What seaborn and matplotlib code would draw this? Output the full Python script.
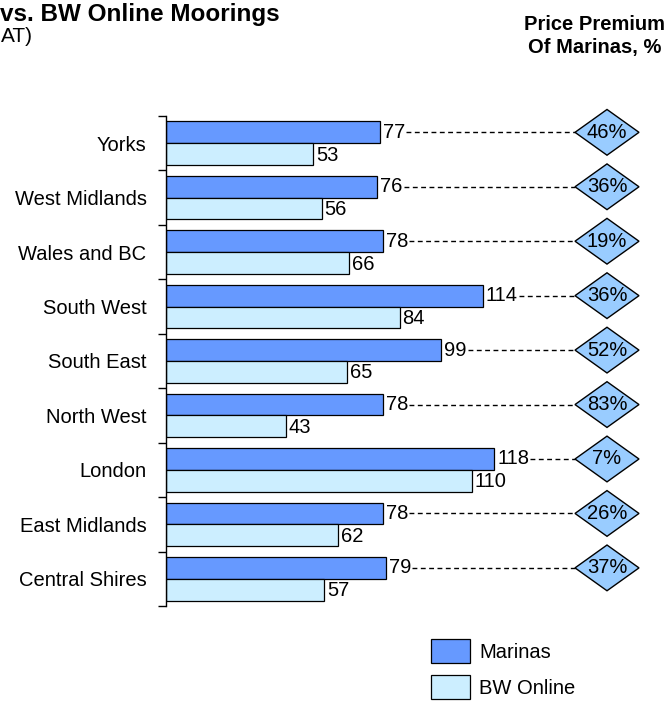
import matplotlib
matplotlib.use("Agg")
import matplotlib.pyplot as plt
import seaborn as sns
import pandas as pd
from matplotlib.patches import Polygon, Patch

regions = ["Yorks", "West Midlands", "Wales and BC", "South West", "South East",
           "North West", "London", "East Midlands", "Central Shires"]
marinas = [77, 76, 78, 114, 99, 78, 118, 78, 79]
bw_online = [53, 56, 66, 84, 65, 43, 110, 62, 57]
premium = [46, 36, 19, 36, 52, 83, 7, 26, 37]
series = ["Marinas", "BW Online"]

sns.set_theme(style="white")
plt.rcParams['font.family'] = ['Liberation Sans', 'DejaVu Sans']
plt.rcParams['text.color'] = 'black'
plt.rcParams['ytick.color'] = 'black'
plt.rcParams['ytick.labelcolor'] = 'black'

df = pd.DataFrame({
    "Region": regions * 2,
    "Price": marinas + bw_online,
    "Type": [series[0]] * len(regions) + [series[1]] * len(regions),
})

FS = 14.5
W, H = 671, 702
fig = plt.figure(figsize=(W / 100, H / 100), dpi=100)
ax_left, ax_right = 166, 671
ax_top, ax_bot = 116, 606
ax = fig.add_axes([ax_left / W, (H - ax_bot) / H, (ax_right - ax_left) / W, (ax_bot - ax_top) / H])

colors = {"Marinas": "#6699FF", "BW Online": "#CCEEFF"}
sns.barplot(data=df, y="Region", x="Price", hue="Type", order=regions, hue_order=series,
            palette=colors, saturation=1, orient="h", width=0.8, edgecolor="black",
            linewidth=0.9, ax=ax, legend=False)

px_per_unit = 2.78
xmax = (ax_right - ax_left) / px_per_unit
ax.set_xlim(0, xmax)
ax.set_ylim(len(regions) - 0.5, -0.5)

for s in ["top", "right", "bottom"]:
    ax.spines[s].set_visible(False)
ax.spines["left"].set_color("black")
ax.spines["left"].set_linewidth(1)
ax.set_xticks([])
ax.set_xlabel("")
ax.set_ylabel("")
ax.set_yticks(range(len(regions)))
ax.set_yticklabels(regions, fontsize=FS, color="black")
ax.tick_params(axis="y", which="major", length=0, pad=14)
ax.set_yticks([i - 0.5 for i in range(len(regions) + 1)], minor=True)
ax.tick_params(axis="y", which="minor", left=True, length=6, width=1, color="black",
               direction="out")

fig.canvas.draw()
renderer = fig.canvas.get_renderer()
inv = ax.transData.inverted()

off = 3 / px_per_unit
diamond_cx = (607 - ax_left) / px_per_unit
dhw = 32 / px_per_unit
dhh = 0.42
for i, (m, b, p) in enumerate(zip(marinas, bw_online, premium)):
    ym = i - 0.2
    yb = i + 0.2
    t = ax.text(m + off, ym, f"{m}", va="center", ha="left", fontsize=FS, color="black")
    ax.text(b + off, yb + 0.02, f"{b}", va="center", ha="left", fontsize=FS, color="black")
    bb = t.get_window_extent(renderer)
    x_end = inv.transform((bb.x1, bb.y0))[0]
    ax.plot([x_end + 1 / px_per_unit, diamond_cx - dhw], [ym, ym], color="black",
            linewidth=1, linestyle=(0, (3.5, 2.5)), clip_on=False)
    poly = Polygon([(diamond_cx - dhw, ym), (diamond_cx, ym - dhh), (diamond_cx + dhw, ym),
                    (diamond_cx, ym + dhh)], closed=True, facecolor="#99CCFF",
                   edgecolor="black", linewidth=1, clip_on=False, zorder=3)
    ax.add_patch(poly)
    ax.text(diamond_cx, ym, f"{p}%", va="center", ha="center", fontsize=FS, color="black",
            zorder=4)

fig.text(0, 1 - 14 / H, "vs. BW Online Moorings", fontsize=17.5, fontweight="bold",
         va="center", ha="left", color="black")
fig.text(1 / W, 1 - 37 / H, "AT)", fontsize=15, va="center", ha="left", color="black")
fig.text(595 / W, 1 - 36 / H, "Price Premium\nOf Marinas, %", fontsize=FS, fontweight="bold",
         va="center", ha="center", linespacing=1.3, color="black")

handles = [Patch(facecolor=colors[s], edgecolor="black", linewidth=0.9, label=s) for s in series]
fig.legend(handles=handles, loc="upper left", bbox_to_anchor=(431 / W, 1 - 639 / H),
           frameon=False, fontsize=FS, handlelength=1.95, handleheight=1.45,
           handletextpad=0.45, labelspacing=0.6, borderpad=0, borderaxespad=0,
           labelcolor="black")

fig.savefig("out.png", dpi=100)
